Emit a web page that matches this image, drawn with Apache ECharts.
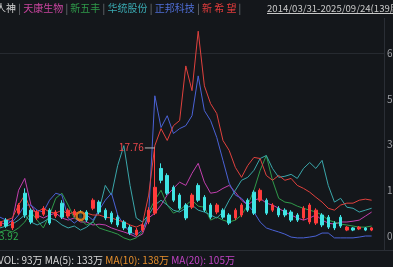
<!DOCTYPE html>
<html><head><meta charset="utf-8">
<script src="https://cdn.jsdelivr.net/npm/echarts@6/dist/echarts.min.js"></script>
<style>html,body{margin:0;padding:0;background:#14171b;}#c{width:393px;height:267px;}</style>
</head><body><div id="c"></div>
<script>
// weekly periods (63 slots, data fills 61)
const weeks = Array.from({length: 63}, (_, i) => 'W' + (i + 1));
const yTicks = [0, 17, 34, 51, 68];

// 唐人神 candles: [open, close, low, high]
const tangRenShen = [
 [3.7,5.2,3.0,5.9],[5.9,3.7,3.0,6.7],[3.0,5.2,2.2,5.9],[8.5,11.5,7.8,12.2],[15.9,7.8,6.7,17.7],
 [9.6,5.2,4.4,10.3],[6.7,8.9,5.9,9.6],[8.1,10.3,7.4,11.1],[9.6,4.8,4.1,10.3],[7.4,8.9,6.7,9.6],
 [12.2,7.0,6.3,13.3],[7.4,9.6,6.7,10.3],[7.8,9.2,7.0,10.0],[8.9,6.7,5.9,9.6],[8.9,5.9,5.2,9.6],
 [10.3,13.3,9.6,14.0],[12.6,8.9,8.1,13.3],[9.6,6.7,5.9,10.3],[8.5,5.2,4.4,9.2],[7.0,4.1,3.3,7.8],
 [5.2,3.0,2.2,5.9],[3.3,1.1,0.4,4.1],[0.4,2.2,0.0,3.0],[2.2,4.1,1.5,4.8],[5.2,9.6,4.4,10.7],
 [8.5,18.1,7.8,32.9],[25.1,20.7,19.6,27.0],[22.5,15.9,15.2,23.3],[18.1,13.3,12.6,18.8],[15.2,10.3,9.6,15.9],
 [11.5,6.7,5.9,12.2],[10.7,15.2,10.0,15.9],[18.8,13.3,12.6,19.6],[14.4,9.6,8.9,15.2],[11.5,7.0,6.3,12.2],
 [8.9,11.5,8.1,12.2],[9.6,7.0,6.3,10.3],[7.8,4.8,4.1,8.5],[6.7,9.6,5.9,10.3],[7.8,11.5,7.0,12.2],
 [13.3,9.6,8.9,14.0],[16.3,8.5,7.8,17.0],[13.3,17.0,12.6,17.7],[13.3,8.5,7.8,14.0],[9.6,11.5,8.9,12.2],
 [10.3,7.8,7.0,11.1],[9.6,7.8,7.0,10.3],[8.9,5.9,5.2,9.6],[7.8,5.9,5.2,8.5],[6.7,10.3,5.9,11.1],
 [5.2,11.5,4.4,12.2],[4.8,9.6,4.1,10.3],[7.8,4.1,3.3,8.5],[7.0,3.3,2.6,7.8],[4.8,3.0,2.2,5.5],
 [7.0,3.7,3.0,7.8],[2.2,3.3,1.8,3.7],[3.0,2.2,1.8,3.3],[2.6,3.3,2.2,3.7],[3.0,2.2,1.8,3.3],
 [2.2,3.0,1.8,3.3]
];
const tianKang = [5.2,4.1,5.9,17.0,21.4,11.5,7.8,6.7,7.8,8.5,6.7,5.9,6.7,5.2,5.2,4.1,4.4,4.1,3.0,2.2,1.5,0.7,-0.4,0.7,6.7,8.5,11.5,15.2,17.7,20.0,18.8,23.3,27.0,20.0,15.9,16.3,17.7,18.8,16.3,13.3,11.5,13.3,14.0,12.2,11.5,10.3,8.9,7.8,6.7,5.9,6.7,7.8,5.9,4.8,4.4,5.2,5.2,5.5,5.9,7.4,8.9];
const xinWuFeng = [1.5,2.2,1.5,3.0,5.2,8.9,5.9,3.0,7.8,14.0,15.9,11.5,6.7,5.9,4.1,5.2,3.0,2.2,1.5,0.7,-0.7,-1.5,-0.7,1.5,8.9,13.3,17.0,11.5,8.5,9.6,11.5,13.3,11.1,10.7,5.9,7.0,5.9,5.2,5.9,7.8,11.5,17.0,24.4,29.9,20.7,14.0,12.6,12.2,11.1,10.3,9.6,8.9,7.8,5.9,5.2,4.4,4.1,3.7,3.3,3.3,3.7];
const huaTong = [3.0,3.7,4.4,5.9,7.8,5.2,4.1,5.2,6.7,5.9,4.1,3.0,3.7,2.2,3.3,5.2,9.6,18.8,15.2,26.2,33.6,18.8,6.7,5.2,7.8,11.5,13.3,11.5,9.6,8.9,10.3,11.5,9.6,8.9,7.8,6.7,8.9,13.3,17.0,20.7,21.8,24.4,28.8,29.9,25.1,21.8,22.2,22.9,21.4,25.1,27.3,25.1,28.1,18.8,12.6,14.0,10.7,10.3,8.9,9.6,10.3];
const zhengBang = [7.0,5.9,5.2,7.8,11.5,11.5,9.6,8.9,13.3,15.9,15.2,6.7,4.8,6.7,7.8,5.9,9.6,13.3,15.9,7.8,4.1,1.5,0.4,2.2,7.8,52.1,40.3,44.7,38.1,39.9,41.0,44.7,59.5,46.6,42.9,36.6,28.1,19.6,15.2,14.0,11.5,8.9,5.2,3.0,2.2,1.5,0.7,-0.4,-0.7,-0.7,-0.4,0.0,1.1,1.1,-0.7,-0.7,-0.7,-0.7,-0.4,0.0,0.0];
const xinXiWang = [5.2,5.9,6.7,11.5,15.2,9.6,8.9,10.3,8.9,8.5,9.6,8.1,8.9,8.1,8.5,7.8,7.8,7.0,6.7,5.9,5.2,4.1,3.3,4.4,15.2,33.6,39.9,35.5,41.0,42.9,63.2,54.0,76.1,55.8,49.2,45.5,35.5,31.8,25.5,21.8,26.2,29.2,28.8,22.5,20.7,22.5,20.7,21.4,18.8,17.7,16.3,14.4,12.6,10.3,9.6,11.5,12.2,12.2,13.3,13.7,13.3];
const eventMarks = [[13, 7.4]];
const maxLabel = '17.76', minLabel = '3.92';

const FONT = '"Noto Sans CJK SC", "Noto Sans", sans-serif';
const chart = echarts.init(document.getElementById('c'));
const line = (name, data, color) => ({
  name, type: 'line', data, symbol: 'none', clip: false, z: 2,
  lineStyle: {width: 1, color}, emphasis: {disabled: true}
});
chart.setOption({
  backgroundColor: '#14171b',
  animation: false,
  grid: {left: 0, right: 9, top: 53, bottom: 31, containLabel: false, outerBoundsMode: 'none'},
  xAxis: {type: 'category', data: weeks, boundaryGap: false, show: false},
  yAxis: {
    type: 'value', position: 'right', min: yTicks[0], max: yTicks[yTicks.length - 1], interval: 17,
    axisLine: {show: false}, axisTick: {show: false}, splitLine: {show: false},
    axisLabel: {color: '#9c9ea3', fontSize: 10, margin: 3, fontFamily: FONT}
  },
  series: [
    line('天康生物', tianKang, '#c23fae'),
    line('新五丰', xinWuFeng, '#2f9a4a'),
    line('华统股份', huaTong, '#3aa6aa'),
    line('正邦科技', zhengBang, '#4a62d6'),
    line('新希望', xinXiWang, '#e0413d'),
    {
      name: '唐人神', type: 'candlestick', data: tangRenShen, barWidth: 3, clip: false, z: 3,
      itemStyle: {color: '#ff3b3b', color0: '#3fe4e4', borderColor: '#ff3b3b', borderColor0: '#3fe4e4', borderWidth: 1}
    },
    {
      type: 'scatter', data: eventMarks, symbol: 'circle', symbolSize: 8, z: 4,
      itemStyle: {color: '#14171b', borderColor: '#ff8a1c', borderWidth: 2.5}
    }
  ]
});

// annotation for highest high
let hiIdx = 0;
tangRenShen.forEach((d, i) => { if (d[3] > tangRenShen[hiIdx][3]) hiIdx = i; });
const hp = chart.convertToPixel({gridIndex: 0}, [hiIdx, tangRenShen[hiIdx][3]]);
const topGrid = chart.convertToPixel({gridIndex: 0}, [0, yTicks[yTicks.length - 1]]);

chart.setOption({
  graphic: [
    {type: 'line', silent: true, shape: {x1: 0, y1: topGrid[1] + 0.5, x2: 384, y2: topGrid[1] + 0.5}, style: {stroke: '#262a30', lineWidth: 1}, z: 0},
    {type: 'line', silent: true, shape: {x1: 384.5, y1: 18, x2: 384.5, y2: 250}, style: {stroke: '#2a2e35', lineWidth: 1}},
    {type: 'line', silent: true, shape: {x1: 0, y1: 250.5, x2: 393, y2: 250.5}, style: {stroke: '#2a2e35', lineWidth: 1}},
    {type: 'line', silent: true, shape: {x1: hp[0] - 10, y1: hp[1] + 0.5, x2: hp[0], y2: hp[1] + 0.5}, style: {stroke: '#b8b8b8', lineWidth: 1}, z: 10},
    {type: 'text', silent: true, x: hp[0] - 11, y: hp[1], z: 10,
     style: {text: maxLabel, fill: '#e8464a', font: '10px ' + FONT, textAlign: 'right', textVerticalAlign: 'middle'}},
    {type: 'text', silent: true, x: -1, y: 236, z: 10,
     style: {text: minLabel, fill: '#2fae4e', font: '10px ' + FONT, textAlign: 'left', textVerticalAlign: 'middle'}},
    {type: 'text', silent: true, x: -14, y: 8, z: 10,
     style: {
       text: '{w|唐人神} {s||} {a|天康生物} {s||} {g|新五丰} {s||} {t|华统股份} {s||} {b|正邦科技} {s||} {r|新 希 望} {s||}',
       font: '10px ' + FONT, textVerticalAlign: 'middle',
       rich: {
         w: {fill: '#d6d6d6', font: '10px ' + FONT},
         s: {fill: '#7a7c80', font: '10px ' + FONT},
         a: {fill: '#c8449e', font: '10px ' + FONT},
         g: {fill: '#2f9a4a', font: '10px ' + FONT},
         t: {fill: '#3aaab2', font: '10px ' + FONT},
         b: {fill: '#4f6ed6', font: '10px ' + FONT},
         r: {fill: '#e23c3c', font: '10px ' + FONT}
       }
     }},
    {type: 'text', silent: true, x: 267, y: 8, z: 10,
     style: {text: '2014/03/31-2025/09/24(139周)', fill: '#c8c8c8', font: '9.6px ' + FONT, textVerticalAlign: 'middle'}},
    {type: 'line', silent: true, shape: {x1: 267, y1: 13.5, x2: 393, y2: 13.5}, style: {stroke: '#c8c8c8', lineWidth: 1}},
    {type: 'text', silent: true, x: -2, y: 260, z: 10,
     style: {
       text: '{w|VOL: 93万 MA(5): 133万} {o|MA(10): 138万} {p|MA(20): 105万}',
       font: '10px ' + FONT, textVerticalAlign: 'middle',
       rich: {
         w: {fill: '#d8d8d8', font: '10px ' + FONT},
         o: {fill: '#e8902c', font: '10px ' + FONT},
         p: {fill: '#c244c6', font: '10px ' + FONT}
       }
     }}
  ]
});
</script></body></html>
